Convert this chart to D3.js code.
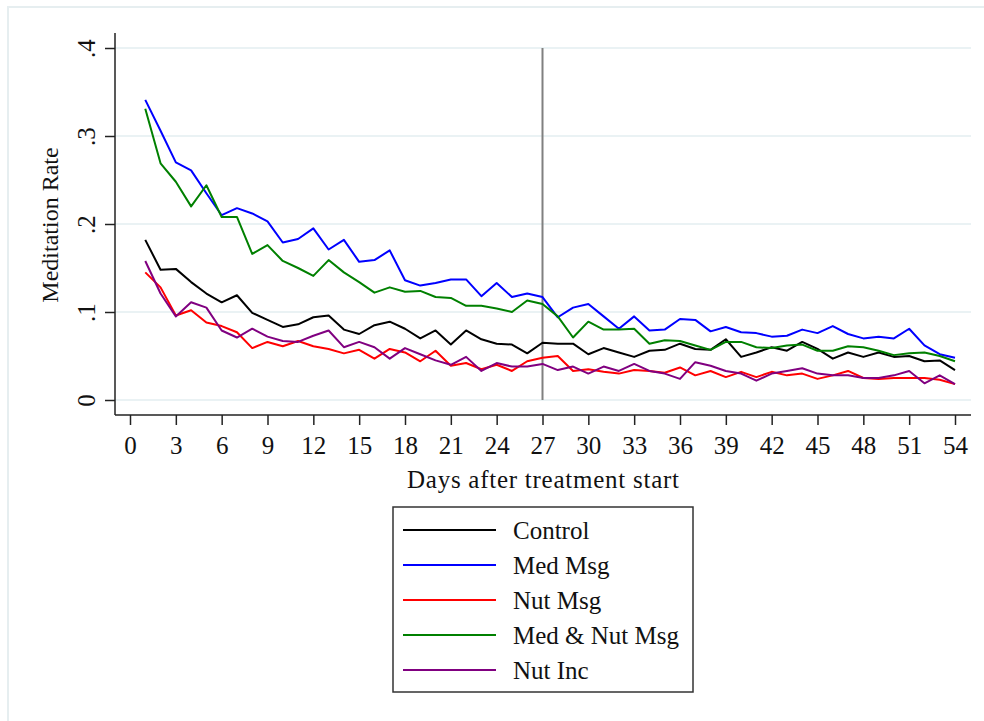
<!DOCTYPE html>
<html>
<head>
<meta charset="utf-8">
<script src="https://cdn.jsdelivr.net/npm/d3@7"></script>
<style>
  body { margin: 0; background: #fff; }
  text { font-family: "Liberation Serif", "Times New Roman", serif; fill: #111; }
</style>
</head>
<body>
<div id="chart"></div>
<script>
// data
var days = d3.range(1, 55);
var control = [0.182,0.148,0.149,0.134,0.121,0.111,0.119,0.099,0.091,0.083,0.086,0.094,0.096,0.080,0.075,0.085,0.089,0.081,0.070,0.079,
  0.063,0.079,0.069,0.064,0.063,0.053,0.065,0.064,0.064,0.052,0.059,0.054,0.049,0.056,0.057,0.064,0.058,0.057,0.069,0.049,
  0.054,0.060,0.056,0.066,0.058,0.047,0.054,0.049,0.054,0.049,0.050,0.044,0.045,0.034];
var medMsg = [0.341,0.306,0.270,0.261,0.235,0.210,0.218,0.212,0.203,0.179,0.183,0.195,0.171,0.182,0.157,0.159,0.170,0.136,0.130,0.133,
  0.137,0.137,0.118,0.133,0.117,0.121,0.117,0.094,0.105,0.109,0.095,0.081,0.095,0.079,0.080,0.092,0.091,0.078,0.083,0.077,
  0.076,0.072,0.073,0.080,0.076,0.084,0.075,0.070,0.072,0.070,0.081,0.062,0.052,0.048];
var nutMsg = [0.145,0.128,0.096,0.102,0.088,0.084,0.077,0.059,0.066,0.061,0.067,0.061,0.058,0.053,0.057,0.047,0.058,0.054,0.044,0.056,
  0.039,0.042,0.035,0.040,0.033,0.044,0.048,0.050,0.033,0.035,0.032,0.030,0.034,0.033,0.031,0.037,0.028,0.033,0.026,0.032,
  0.026,0.032,0.028,0.030,0.024,0.028,0.033,0.025,0.024,0.025,0.025,0.025,0.023,0.018];
var medNutMsg = [0.331,0.269,0.248,0.220,0.244,0.208,0.208,0.166,0.176,0.158,0.150,0.141,0.159,0.145,0.134,0.122,0.128,0.123,0.124,0.117,
  0.116,0.107,0.107,0.104,0.100,0.113,0.109,0.095,0.071,0.089,0.080,0.080,0.081,0.064,0.068,0.067,0.062,0.057,0.066,0.066,
  0.060,0.059,0.062,0.063,0.056,0.056,0.061,0.060,0.056,0.051,0.053,0.054,0.050,0.044];
var nutInc = [0.158,0.121,0.095,0.111,0.105,0.079,0.071,0.081,0.072,0.067,0.066,0.073,0.079,0.060,0.066,0.060,0.047,0.059,0.052,0.045,
  0.040,0.049,0.033,0.042,0.038,0.038,0.041,0.034,0.038,0.030,0.038,0.033,0.041,0.033,0.030,0.024,0.043,0.039,0.033,0.030,
  0.022,0.030,0.033,0.036,0.030,0.028,0.028,0.025,0.025,0.028,0.033,0.019,0.028,0.018];
var seriesNames = ["Control", "Med Msg", "Nut Msg", "Med & Nut Msg", "Nut Inc"];
var seriesColors = ["#000000", "#0000ff", "#ff0000", "#008000", "#800080"];
var xTicks = d3.range(0, 55, 3);
var yTicks = [0, 0.1, 0.2, 0.3, 0.4];
var treatmentEnd = 27;

var width = 984, height = 721;

var svg = d3.select("#chart").append("svg")
  .attr("width", width)
  .attr("height", height);

// faint outer frame
svg.append("path")
  .attr("d", "M8,721 V7 H984")
  .attr("fill", "none")
  .attr("stroke", "#e6eef0")
  .attr("stroke-width", 2);

var x = d3.scaleLinear().domain([0, 54]).range([130, 955]);
var y = d3.scaleLinear().domain([0, 0.4]).range([400, 48]);

// grid
svg.append("g")
  .selectAll("line")
  .data(yTicks)
  .enter().append("line")
  .attr("x1", 115).attr("x2", 971)
  .attr("y1", function (d) { return y(d); })
  .attr("y2", function (d) { return y(d); })
  .attr("stroke", "#eaf2f4")
  .attr("stroke-width", 2);

// y axis
var yAxis = svg.append("g")
  .attr("transform", "translate(115,0)")
  .call(d3.axisLeft(y).tickValues(yTicks).tickSize(10).tickSizeOuter(0)
    .tickFormat(function (d) { return d === 0 ? "0" : d3.format(".1f")(d).replace(/^0/, ""); }));
yAxis.select(".domain").remove();
yAxis.selectAll(".tick line").attr("stroke", "#222").attr("stroke-width", 1.5);
yAxis.selectAll(".tick text")
  .attr("x", null).attr("dy", null)
  .attr("text-anchor", "middle")
  .attr("transform", "translate(-20,0) rotate(-90)")
  .style("font-family", "Liberation Serif, serif")
  .style("font-size", "25px")
  .attr("fill", "#111");
svg.append("line")
  .attr("x1", 115).attr("x2", 115)
  .attr("y1", 33).attr("y2", 415)
  .attr("stroke", "#222").attr("stroke-width", 1.5);

// x axis
var xAxis = svg.append("g")
  .attr("transform", "translate(0,415)")
  .call(d3.axisBottom(x).tickValues(xTicks).tickSize(10).tickSizeOuter(0));
xAxis.select(".domain").remove();
xAxis.selectAll(".tick line").attr("stroke", "#222").attr("stroke-width", 1.5);
xAxis.selectAll(".tick text")
  .attr("y", 39).attr("dy", null)
  .style("font-family", "Liberation Serif, serif")
  .style("font-size", "25px")
  .attr("fill", "#111");
svg.append("line")
  .attr("x1", 115).attr("x2", 971)
  .attr("y1", 415).attr("y2", 415)
  .attr("stroke", "#222").attr("stroke-width", 1.5);

// axis titles
svg.append("text")
  .attr("transform", "translate(58,225) rotate(-90)")
  .attr("text-anchor", "middle")
  .style("font-size", "24px")
  .text("Meditation Rate");

svg.append("text")
  .attr("x", 543).attr("y", 488)
  .attr("text-anchor", "middle")
  .attr("textLength", 272)
  .style("font-size", "25px")
  .text("Days after treatment start");

// treatment end marker
svg.append("line")
  .attr("x1", x(treatmentEnd)).attr("x2", x(treatmentEnd))
  .attr("y1", y(0.4)).attr("y2", y(0))
  .attr("stroke", "#808080")
  .attr("stroke-width", 2);

// lines
var allSeries = [control, medMsg, nutMsg, medNutMsg, nutInc];
var line = d3.line()
  .x(function (d, i) { return x(days[i]); })
  .y(function (d) { return y(d); });

svg.append("g")
  .selectAll("path")
  .data(allSeries)
  .enter().append("path")
  .attr("d", line)
  .attr("fill", "none")
  .attr("stroke", function (d, i) { return seriesColors[i]; })
  .attr("stroke-width", 2)
  .attr("stroke-linejoin", "round");

// legend
var legend = svg.append("g").attr("transform", "translate(393,507)");
legend.append("rect")
  .attr("width", 300).attr("height", 185)
  .attr("fill", "#fff")
  .attr("stroke", "#333")
  .attr("stroke-width", 1.5);

var item = legend.selectAll(".item")
  .data(seriesNames)
  .enter().append("g")
  .attr("class", "item")
  .attr("transform", function (d, i) { return "translate(0," + (23 + i * 35) + ")"; });

item.append("line")
  .attr("x1", 10).attr("x2", 103)
  .attr("stroke", function (d, i) { return seriesColors[i]; })
  .attr("stroke-width", 2);

item.append("text")
  .attr("x", 120).attr("y", 9)
  .style("font-size", "25px")
  .text(function (d) { return d; });
</script>
</body>
</html>
